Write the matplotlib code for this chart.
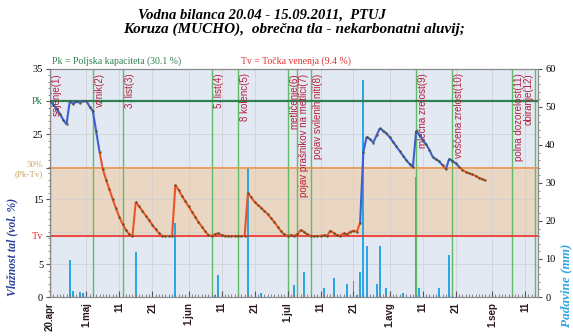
import datetime as dt
import numpy as np
import matplotlib
matplotlib.use("Agg")
import matplotlib.pyplot as plt
import matplotlib.dates as mdates
from matplotlib.collections import LineCollection
from matplotlib.ticker import MultipleLocator

# ---- data -------------------------------------------------------------
start = dt.date(2011, 4, 20)
end = dt.date(2011, 9, 15)

PK = 30.1   # poljska kapaciteta (vol. %)
TV = 9.4    # tocka venenja (vol. %)
HALF = (PK + TV) / 2

# daily soil moisture (vol. %) from 20.04
moisture = [
    30.1, 29.5, 28.9, 28.1, 27.2, 26.5, 30.1, 29.6, 30.0, 29.8,
    30.1, 30.1, 29.2, 28.5, 25.4, 22.3, 19.6, 18.0, 16.5, 15.0,
    13.6, 12.3, 11.2, 10.3, 9.6, 9.4, 14.6, 13.9, 13.2, 12.5,
    11.8, 11.1, 10.4, 9.8, 9.4, 9.4, 9.4, 9.4, 17.2, 16.4,
    15.5, 14.7, 13.9, 13.1, 12.3, 11.5, 10.8, 10.1, 9.5, 9.4,
    9.6, 9.8, 9.5, 9.4, 9.4, 9.4, 9.4, 9.4, 9.4, 9.4,
    16.0, 15.3, 14.6, 14.1, 13.7, 13.2, 12.7, 12.1, 11.5, 10.8,
    10.1, 9.6, 9.4, 9.5, 9.4, 9.6, 10.3, 10.0, 9.6, 9.4,
    9.4, 9.4, 9.4, 9.5, 9.4, 10.2, 9.8, 9.5, 9.4, 9.8,
    9.6, 10.0, 10.2, 10.0, 11.4, 22.3, 24.6, 24.2, 23.7, 24.8,
    25.9, 25.5, 25.1, 24.5, 23.8, 23.1, 22.4, 21.7, 21.0, 20.4,
    19.9, 25.5, 24.9, 24.1, 23.4, 22.6, 21.5, 21.1, 20.8, 20.2,
    19.6, 21.2, 20.9, 20.5, 20.0, 19.5, 19.2, 19.0, 18.8, 18.6,
    18.3, 18.1, 17.9,
]

# precipitation (mm)
rain_dates = [
    "2011-04-26", "2011-04-27", "2011-04-29", "2011-04-30", "2011-05-16",
    "2011-05-28", "2011-06-09", "2011-06-10", "2011-06-19", "2011-06-23",
    "2011-07-03", "2011-07-06", "2011-07-12", "2011-07-15", "2011-07-19",
    "2011-07-21", "2011-07-22", "2011-07-23", "2011-07-24", "2011-07-25",
    "2011-07-28", "2011-07-29", "2011-07-31", "2011-08-05", "2011-08-09",
    "2011-08-10", "2011-08-16", "2011-08-19",
]
rain_mm = [
    9.7, 1.6, 1.2, 1.0, 11.9,
    19.4, 0.5, 5.8, 34.0, 1.0,
    3.2, 6.7, 2.3, 4.9, 3.5,
    4.3, 0.5, 6.7, 57.0, 13.5,
    3.3, 13.3, 2.5, 1.1, 31.5,
    2.5, 2.5, 11.0,
]

# phenological stages
stage_dates = [
    "2011-04-20", "2011-05-03", "2011-05-12", "2011-06-08", "2011-06-16",
    "2011-07-01", "2011-07-04", "2011-07-08", "2011-08-09", "2011-08-20",
    "2011-09-07", "2011-09-14",
]
stage_names = [
    "sajenje(1)", "vznik(2)", "3. list(3)", "5. list(4)", "8 kolenc(5)",
    "metličenje(6)", "pojav prašnikov na metlici(7)", "pojav svilenih niti(8)",
    "mlečna zrelost(9)", "voščena zrelost(10)", "polna dozorelost(11)",
    "obiranje(12)",
]

tick_dates = [
    "2011-04-20", "2011-05-01", "2011-05-11", "2011-05-21", "2011-06-01",
    "2011-06-11", "2011-06-21", "2011-07-01", "2011-07-11", "2011-07-21",
    "2011-08-01", "2011-08-11", "2011-08-21", "2011-09-01", "2011-09-11",
]
tick_labels = [
    "20.apr", "1.maj", "11", "21", "1.jun", "11", "21", "1.jul", "11",
    "21", "1.avg", "11", "21", "1.sep", "11",
]

# ---- figure -----------------------------------------------------------
serif = "Liberation Serif"
sans = "Liberation Sans"

fig = plt.figure(figsize=(5.73, 3.36), dpi=100)
ax = fig.add_axes([0.0873, 0.116, 0.852, 0.679])
ax2 = ax.twinx()
ax.set_zorder(ax2.get_zorder() + 1)
ax.patch.set_visible(False)

x0 = mdates.date2num(start)
x1 = mdates.date2num(end)
days = x0 + np.arange(len(moisture))
mvals = np.array(moisture)

# background bands on the rain axis (drawn behind everything)
ax2.set_ylim(0, 60)
ax2.set_xlim(x0, x1)
scale = 60 / 35
ax2.axhspan(0, TV * scale, color="#e2e9f3", zorder=0)
ax2.axhspan(TV * scale, HALF * scale, color="#e9d7c3", zorder=0)
ax2.axhspan(HALF * scale, 60, color="#e2e9f3", zorder=0)
for yv in np.arange(5, 35, 5):
    ax2.axhline(yv * scale, color="#cfcfcf", lw=0.5, zorder=0.5)
for td in tick_dates:
    ax2.axvline(mdates.datestr2num(td), color="#cfcfcf", lw=0.5, zorder=0.5)

# precipitation bars
rx = [mdates.datestr2num(d) for d in rain_dates]
ax2.bar(rx, rain_mm, width=0.6, color="#2ea6e3", zorder=2)

ax.set_xlim(x0, x1)
ax.set_ylim(0, 35)

# stage lines and labels
for i, (d, name) in enumerate(zip(stage_dates, stage_names)):
    xv = mdates.datestr2num(d)
    ax.axvline(xv, color="#62bb66", lw=1.0, zorder=1)
    if i == len(stage_names) - 1:
        ax.text(xv - 0.3, 34.3, name, rotation=90, ha="right", va="top",
                fontsize=7, color="#b3213b", family=sans, zorder=3)
    else:
        ax.text(xv + 0.6, 34.3, name, rotation=90, ha="left", va="top",
                fontsize=7, color="#b3213b", family=sans, zorder=3)

# reference levels
ax.axhline(PK, color="#2f8050", lw=1.6, zorder=2)
ax.axhline(HALF, color="#e9964a", lw=1.2, zorder=2)
ax.axhline(TV, color="#e83030", lw=1.2, zorder=2)

# soil moisture line: blue above half of available water, red below
pts = np.column_stack([days, mvals])
segs = np.stack([pts[:-1], pts[1:]], axis=1)
cols = ["#3d5fcf" if v >= HALF else "#ec5428" for v in mvals[1:]]
ax.add_collection(LineCollection(segs, colors=cols, linewidths=1.5, zorder=4))
ax.plot(days, mvals, ls="none", marker="o", ms=1.8, mew=0, color="#4d4a1e",
        alpha=0.8, zorder=5)

# axes / ticks
ax.set_xticks([mdates.datestr2num(d) for d in tick_dates])
ax.set_xticklabels(tick_labels, rotation=90, fontsize=7, family=sans,
                   fontweight="bold", color="#2a1a1a")
ax.xaxis.set_minor_locator(MultipleLocator(1))
ax.tick_params(axis="x", which="major", direction="in", length=4, color="#555555")
ax.tick_params(axis="x", which="minor", direction="in", length=2, color="#777777")

ax.set_yticks([0, 5, 15, 25, 35, TV, HALF, PK])
ax.set_yticklabels(["0", "5", "15", "25", "35", "Tv", "50%\n(Pk-Tv)", "Pk"],
                   fontsize=7.5, family=serif)
ylabs = ax.get_yticklabels()
ylabs[5].set_color("#e03030")
ylabs[6].set_color("#c9a15c")
ylabs[6].set_fontsize(6.5)
ylabs[7].set_color("#2f8050")
ax.yaxis.set_minor_locator(MultipleLocator(1))
ax.tick_params(axis="y", which="major", length=3, pad=2, color="#555555")
ax.tick_params(axis="y", which="minor", length=1.5, color="#777777")

ax2.set_yticks(np.arange(0, 61, 10))
ax2.set_yticklabels([str(v) for v in range(0, 61, 10)], fontsize=7.5, family=serif)
ax2.yaxis.set_minor_locator(MultipleLocator(2))
ax2.tick_params(axis="y", which="major", length=3, pad=2, color="#555555")
ax2.tick_params(axis="y", which="minor", length=1.5, color="#777777")

for a in (ax, ax2):
    for s in a.spines.values():
        s.set_color("#8a8a8a")
        s.set_linewidth(0.8)

# titles and notes
fig.text(0.457, 0.955, "Vodna bilanca 20.04 - 15.09.2011,  PTUJ", ha="center",
         va="center", fontsize=10.5, family=serif, fontweight="bold", style="italic")
fig.text(0.513, 0.912, "Koruza (MUCHO),  obrečna tla - nekarbonatni aluvij;",
         ha="center", va="center", fontsize=11, family=serif, fontweight="bold",
         style="italic")
fig.text(0.091, 0.818, "Pk = Poljska kapaciteta (30.1 %)", ha="left", va="center",
         fontsize=7, family=serif, color="#2f8050")
fig.text(0.42, 0.818, "Tv = Točka venenja (9.4 %)", ha="left", va="center",
         fontsize=7, family=serif, color="#e03030")

fig.text(0.022, 0.265, "Vlažnost tal (vol. %)", rotation=90, ha="center",
         va="center", fontsize=8.5, family=serif, fontweight="bold",
         style="italic", color="#2c3f9c")
fig.text(0.988, 0.15, "Padavine (mm)", rotation=90, ha="center", va="center",
         fontsize=9.5, family=serif, fontweight="bold", style="italic",
         color="#2ea6e3")

fig.savefig("out.png", dpi=100)
